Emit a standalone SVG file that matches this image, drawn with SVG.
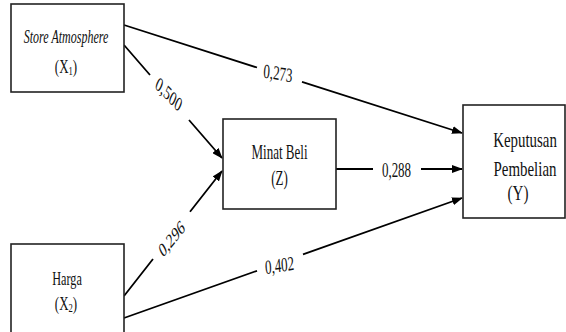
<svg xmlns="http://www.w3.org/2000/svg" width="566" height="332" viewBox="0 0 566 332">
<defs>
<marker id="arr" markerWidth="11" markerHeight="8" refX="10" refY="4" orient="auto" markerUnits="userSpaceOnUse">
<path d="M0,0 L11,4 L0,8 Z" fill="#000"/>
</marker>
<style>
.box{fill:#fff;stroke:#222;stroke-width:1.6}
.t{font-family:"Liberation Serif","Times New Roman",serif;fill:#111;text-anchor:middle}
.c{fill:none;stroke:#000;stroke-width:1.8}
.lbl{font-family:"Liberation Serif","Times New Roman",serif;font-size:20px;fill:#111;text-anchor:middle}
</style>
</defs>
<rect width="566" height="332" fill="#fff"/>
<g id="connectors">
<path class="c" d="M124,25 L257,67.5 M302,81.9 L462,133" marker-end="url(#arr)"/>
<path class="c" d="M124,318 L257,270.8 M303,254.4 L462,198" marker-end="url(#arr)"/>
<path class="c" d="M124,45 L150,75 M189,120 L222,158" marker-end="url(#arr)"/>
<path class="c" d="M124,296 L153,259 M190,211.8 L222,171" marker-end="url(#arr)"/>
<path class="c" d="M336,169 L373,169 M421,169 L462,169" marker-end="url(#arr)"/>
<text class="lbl" transform="translate(278,73) scale(0.65,1) rotate(6.5)" y="7">0,273</text>
<text class="lbl" transform="translate(396.5,170) scale(0.65,1)" y="7">0,288</text>
<text class="lbl" transform="translate(169,94) scale(0.65,1) rotate(34)" y="7">0,500</text>
<text class="lbl" transform="translate(171.5,238.5) scale(0.65,1) rotate(-39)" y="7">0,296</text>
<text class="lbl" transform="translate(279.5,265) scale(0.65,1) rotate(-6)" y="7">0,402</text>
</g>
<g id="X1">
<rect class="box" x="11" y="4" width="113" height="88"/>
<text class="t" transform="translate(66,43) scale(0.667,1)" font-size="18" font-style="italic">Store Atmosphere</text>
<text class="t" transform="translate(66,73) scale(0.72,1)" font-size="18">(X<tspan font-size="12" dy="2">1</tspan><tspan dy="-2">)</tspan></text>
</g>
<g id="X2">
<rect class="box" x="11" y="244" width="113" height="92"/>
<text class="t" transform="translate(67,285) scale(0.68,1)" font-size="18">Harga</text>
<text class="t" transform="translate(66,310) scale(0.72,1)" font-size="18">(X<tspan font-size="12" dy="2">2</tspan><tspan dy="-2">)</tspan></text>
</g>
<g id="Z">
<rect class="box" x="223" y="119" width="113" height="90"/>
<text class="t" transform="translate(279.5,159) scale(0.62,1)" font-size="21">Minat Beli</text>
<text class="t" transform="translate(279.5,185) scale(0.62,1)" font-size="21">(Z)</text>
</g>
<g id="Y">
<rect class="box" x="463" y="105" width="102" height="113"/>
<text class="t" transform="translate(525,147) scale(0.71,1)" font-size="21">Keputusan</text>
<text class="t" transform="translate(525,176) scale(0.71,1)" font-size="21">Pembelian</text>
<text class="t" transform="translate(518,200) scale(0.72,1)" font-size="21">(Y)</text>
</g>
</svg>
